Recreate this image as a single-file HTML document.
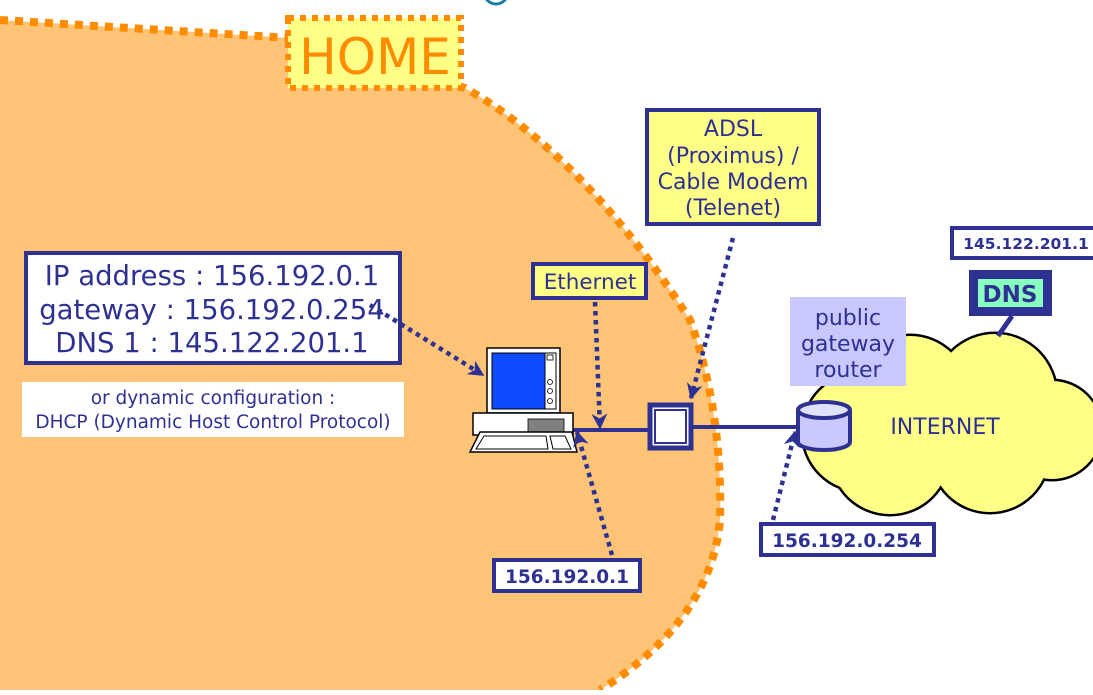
<!DOCTYPE html><html><head><style>body{margin:0;width:1093px;height:690px;overflow:hidden;background:#fff}text{font-family:"DejaVu Sans","Liberation Sans",sans-serif}</style></head><body>
<svg width="1093" height="690" viewBox="0 0 1093 690">
<defs>
<marker id="ah" viewBox="0 0 10 10" refX="9" refY="5" markerWidth="16" markerHeight="16" orient="auto" markerUnits="userSpaceOnUse"><path d="M0,0 L10,5 L0,10 L3,5 z" fill="#2e3192"/></marker></defs>
<circle cx="496" cy="-8" r="12" fill="none" stroke="#1a7fa0" stroke-width="3"/>
<path d="M0,20 L290,38 L465,88 C540,130 620,210 690,320 C712,380 722,450 720,520 C715,580 680,640 600,690 L0,690 Z" fill="#fdc478"/>
<path d="M0,20 L290,38 L465,88 C540,130 620,210 690,320 C712,380 722,450 720,520 C715,580 680,640 600,690" fill="none" stroke="#ff8c00" stroke-width="8" stroke-dasharray="8 7"/>
<rect x="288" y="18" width="173" height="70" fill="#ffff88" stroke="#ff8c00" stroke-width="6" stroke-dasharray="6 6"/>
<text x="375" y="74" font-size="50" fill="#ff8c00" text-anchor="middle">HOME</text>
<!-- cloud -->
<g stroke="#000" stroke-width="3" fill="#ffff88">
<circle cx="862" cy="432" r="60"/><circle cx="910" cy="395" r="60"/><circle cx="995" cy="395" r="62"/><circle cx="1052" cy="430" r="50"/><circle cx="890" cy="455" r="60"/><circle cx="990" cy="453" r="60"/><circle cx="1045" cy="440" r="36"/></g>
<g fill="#ffff88">
<circle cx="862" cy="432" r="59"/><circle cx="910" cy="395" r="59"/><circle cx="995" cy="395" r="61"/><circle cx="1052" cy="430" r="49"/><circle cx="890" cy="455" r="59"/><circle cx="990" cy="453" r="59"/><circle cx="1045" cy="440" r="35"/><rect x="870" y="390" width="150" height="90"/></g>
<text x="945" y="434" font-size="22" fill="#2e3192" text-anchor="middle">INTERNET</text>
<!-- lines -->
<line x1="573" y1="430" x2="648" y2="430" stroke="#2e3192" stroke-width="4"/>
<line x1="693" y1="427" x2="800" y2="427" stroke="#2e3192" stroke-width="4"/>
<line x1="1012" y1="316" x2="998" y2="336" stroke="#2e3192" stroke-width="5"/>
<!-- computer -->
<rect x="487" y="348" width="73" height="65" fill="#fff" stroke="#000" stroke-width="1.5"/>
<rect x="492" y="353" width="53" height="56" fill="#0f4bff" stroke="#000"/>
<rect x="545" y="353" width="11" height="56" fill="#fff" stroke="#000"/>
<rect x="547" y="355" width="6" height="5" fill="#fff" stroke="#000" stroke-width=".8"/>
<circle cx="550" cy="382" r="2.5" fill="#fff" stroke="#000" stroke-width=".8"/><circle cx="550" cy="391" r="2.5" fill="#fff" stroke="#000" stroke-width=".8"/><circle cx="550" cy="401" r="2.5" fill="#fff" stroke="#000" stroke-width=".8"/>
<rect x="473" y="413" width="100" height="22" fill="#fff" stroke="#000" stroke-width="1.5"/>
<rect x="528" y="419" width="36" height="14" fill="#808080" stroke="#000" stroke-width=".8"/>
<path d="M480,432 L572,432 L577,452 L470,452 Z" fill="#fff" stroke="#000" stroke-width="1.5"/>
<path d="M484,436 L546,436 L548,449 L476,449 Z" fill="#fff" stroke="#000"/>
<path d="M550,436 L565,436 L571,449 L553,449 Z" fill="#fff" stroke="#000"/>
<!-- modem -->
<rect x="650" y="405" width="41" height="43" fill="#fff" stroke="#2e3192" stroke-width="5"/>
<rect x="655" y="410" width="31" height="33" fill="#fff" stroke="#2e3192" stroke-width="2"/>
<!-- router -->
<path d="M798,410 L798,442 A26,8 0 0 0 850,442 L850,410" fill="#c8c8ff" stroke="#2e3192" stroke-width="4"/>
<ellipse cx="824" cy="410" rx="26" ry="8" fill="#e0e0ff" stroke="#2e3192" stroke-width="4"/>
<!-- boxes -->
<rect x="26" y="253" width="374" height="110" fill="#fff" stroke="#2e3192" stroke-width="4"/>
<g font-size="27.5" fill="#2e3192" text-anchor="middle"><text x="212" y="285">IP address : 156.192.0.1</text><text x="212" y="319">gateway : 156.192.0.254</text><text x="212" y="352">DNS 1 : 145.122.201.1</text></g>
<rect x="22" y="382" width="382" height="55" fill="#fff"/>
<g font-size="18.5" fill="#2e3192" text-anchor="middle"><text x="213" y="404">or dynamic configuration :</text><text x="213" y="428">DHCP (Dynamic Host Control Protocol)</text></g>
<rect x="533" y="264" width="113" height="34" fill="#ffff88" stroke="#2e3192" stroke-width="4"/>
<text x="590" y="289" font-size="21.5" fill="#2e3192" text-anchor="middle">Ethernet</text>
<rect x="647" y="110" width="172" height="114" fill="#ffff88" stroke="#2e3192" stroke-width="4"/>
<g font-size="22" fill="#2e3192" text-anchor="middle"><text x="733" y="136">ADSL</text><text x="733" y="163">(Proximus) /</text><text x="733" y="189">Cable Modem</text><text x="733" y="215">(Telenet)</text></g>
<rect x="790" y="297" width="116" height="89" fill="#c8c8ff"/>
<g font-size="22" fill="#2e3192" text-anchor="middle"><text x="848" y="325">public</text><text x="848" y="351">gateway</text><text x="848" y="377">router</text></g>
<rect x="952" y="228" width="145" height="30" fill="#fff" stroke="#2e3192" stroke-width="4"/>
<text x="1026" y="249" font-size="15.5" font-weight="bold" fill="#2e3192" text-anchor="middle">145.122.201.1</text>
<rect x="969" y="270" width="83" height="46" fill="#2e3192"/>
<rect x="978" y="279" width="65" height="28" fill="#88ffc0"/>
<text x="1010" y="302" font-size="23" font-weight="bold" fill="#2e3192" text-anchor="middle">DNS</text>
<rect x="494" y="560" width="146" height="31" fill="#fff" stroke="#2e3192" stroke-width="4"/>
<text x="567" y="583" font-size="18.5" font-weight="bold" fill="#2e3192" text-anchor="middle">156.192.0.1</text>
<rect x="761" y="524" width="173" height="31" fill="#fff" stroke="#2e3192" stroke-width="4"/>
<text x="847" y="547" font-size="18.5" font-weight="bold" fill="#2e3192" text-anchor="middle">156.192.0.254</text>
<!-- arrows -->
<g stroke="#2e3192" stroke-width="4.5" stroke-dasharray="4.5 4.5" fill="none" marker-end="url(#ah)">
<line x1="370" y1="305" x2="483" y2="375"/>
<line x1="595" y1="302" x2="600" y2="428"/>
<line x1="733" y1="238" x2="691" y2="398"/>
<line x1="612" y1="555" x2="577" y2="432"/>
<line x1="773" y1="520" x2="795" y2="432"/>
</g>
</svg></body></html>
